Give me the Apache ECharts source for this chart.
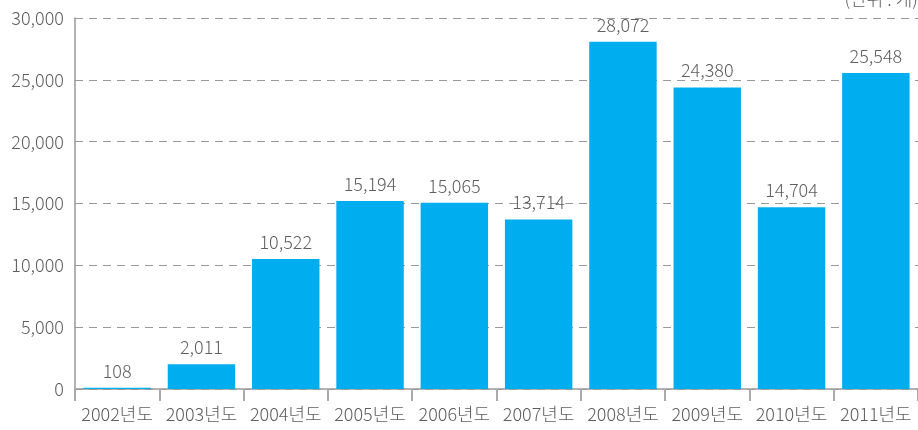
<!DOCTYPE html>
<html><head><meta charset="utf-8">
<script src="https://cdn.jsdelivr.net/npm/echarts@6/dist/echarts.min.js"></script>
<style>html,body{margin:0;padding:0;background:#fff}#c{width:918px;height:430px}</style>
</head><body><div id="c"></div>
<script>
const categories = ['2002년도','2003년도','2004년도','2005년도','2006년도','2007년도','2008년도','2009년도','2010년도','2011년도'];
const values = [108, 2011, 10522, 15194, 15065, 13714, 28072, 24380, 14704, 25548];
const unitLabel = '(단위 : 개)';
const font = '"Noto Sans CJK KR", sans-serif';
const txt = '#5e5e5e';
const fs = 18;
const chart = echarts.init(document.getElementById('c'));
chart.setOption({
  animation: false,
  grid: {left: 75, top: 18, width: 845, height: 371, containLabel: false},
  graphic: [{type: 'text', right: 0, top: -10, style: {text: unitLabel, font: '300 ' + fs + 'px ' + font, fill: txt}}],
  xAxis: {
    type: 'category', data: categories,
    axisLine: {lineStyle: {color: '#999', width: 1.5}},
    axisTick: {show: true, length: 12, lineStyle: {color: '#aaa', width: 2}},
    axisLabel: {color: txt, fontSize: fs, fontFamily: font, fontWeight: 300, margin: 16, interval: 0}
  },
  yAxis: {
    type: 'value', min: 0, max: 30000, interval: 5000,
    axisLine: {show: true, lineStyle: {color: '#999', width: 1.5}},
    axisTick: {show: false},
    axisLabel: {color: txt, fontSize: fs, fontFamily: font, fontWeight: 300, margin: 11,
      formatter: v => v.toLocaleString('en-US')},
    splitLine: {lineStyle: {color: '#999', type: [8, 6], width: 1}}
  },
  series: [{
    type: 'bar', data: values, barCategoryGap: '20%',
    itemStyle: {color: '#00ADEF'},
    label: {show: true, position: 'top', distance: 8, color: txt, fontSize: fs, fontFamily: font, fontWeight: 300,
      formatter: p => p.value.toLocaleString('en-US')}
  }]
});
</script></body></html>
